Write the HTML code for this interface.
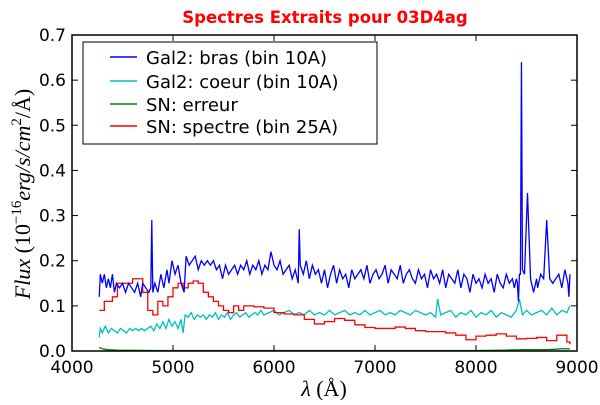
<!DOCTYPE html>
<html><head><meta charset="utf-8"><style>
body{margin:0;background:#fff;width:600px;height:400px;overflow:hidden}
svg text{font-family:"DejaVu Sans","Liberation Sans",sans-serif}
</style></head><body>
<svg id="chart" width="600" height="400" xmlns="http://www.w3.org/2000/svg">
<text x="325" y="23" fill="#ff0000" font-size="16.5" font-weight="bold" text-anchor="middle">Spectres Extraits pour 03D4ag</text>
<g id="marks"></g>
<rect x="72" y="35" width="505" height="316" fill="none" stroke="#000" stroke-width="1.5"/>
<g id="ticks"></g>
<text x="324" y="396" font-size="22" text-anchor="middle" style="font-family:'Liberation Serif',serif"><tspan font-style="italic">λ</tspan> (Å)</text>
<text transform="translate(30,194) rotate(-90)" font-size="22" text-anchor="middle" style="font-family:'Liberation Serif',serif"><tspan font-style="italic">Flux</tspan> (10<tspan dy="-9" font-size="15">−16</tspan><tspan dy="9" font-style="italic">erg/s/cm</tspan><tspan dy="-9" font-size="15">2</tspan><tspan dy="9">/Å)</tspan></text>
<g>
<rect x="83" y="42" width="294" height="102" fill="#fff" stroke="#000" stroke-width="1"/>
<line x1="110" y1="57" x2="137" y2="57" stroke="#0000ff" stroke-width="1.5"/><text x="146" y="64" font-size="18">Gal2: bras (bin 10A)</text>
<line x1="110" y1="81" x2="137" y2="81" stroke="#00bfbf" stroke-width="1.5"/><text x="146" y="88" font-size="18">Gal2: coeur (bin 10A)</text>
<line x1="110" y1="104" x2="137" y2="104" stroke="#008000" stroke-width="1.5"/><text x="146" y="111" font-size="18">SN: erreur</text>
<line x1="110" y1="126" x2="137" y2="126" stroke="#ff0000" stroke-width="1.5"/><text x="146" y="133" font-size="18">SN: spectre (bin 25A)</text>
</g>
</svg>
<script>
const xTicks=[4000,5000,6000,7000,8000,9000];
const yTicks=[0,0.1,0.2,0.3,0.4,0.5,0.6,0.7];
const yTickLabels=["0.0","0.1","0.2","0.3","0.4","0.5","0.6","0.7"];
const brasX=[4270,4280,4300,4320,4340,4360,4380,4400,4420,4440,4470,4500,4530,4560,4590,4620,4650,4680,4700,4730,4760,4780,4790,4800,4820,4850,4880,4910,4940,4960,4990,5020,5050,5080,5110,5130,5160,5190,5220,5250,5280,5310,5340,5370,5400,5430,5460,5490,5520,5550,5580,5610,5640,5670,5700,5730,5760,5790,5820,5850,5880,5910,5940,5970,6000,6030,6060,6090,6120,6150,6180,6210,6240,6250,6260,6290,6320,6350,6380,6410,6440,6470,6500,6530,6560,6590,6620,6650,6680,6710,6740,6770,6800,6830,6860,6890,6920,6950,6980,7010,7040,7070,7100,7130,7160,7190,7220,7250,7280,7310,7340,7370,7400,7430,7460,7490,7520,7550,7580,7610,7640,7670,7700,7730,7760,7790,7820,7850,7880,7910,7940,7970,8000,8030,8060,8090,8120,8150,8180,8210,8240,8270,8300,8330,8360,8380,8400,8410,8420,8430,8440,8450,8460,8480,8510,8540,8570,8600,8610,8620,8640,8670,8700,8730,8760,8790,8820,8850,8880,8910,8920,8930];
const brasY=[0.12,0.17,0.15,0.17,0.14,0.16,0.14,0.17,0.13,0.15,0.14,0.15,0.13,0.15,0.14,0.13,0.15,0.12,0.15,0.14,0.13,0.14,0.29,0.13,0.15,0.13,0.17,0.14,0.18,0.15,0.20,0.17,0.19,0.15,0.13,0.21,0.19,0.20,0.21,0.18,0.20,0.19,0.20,0.19,0.20,0.18,0.19,0.16,0.19,0.17,0.18,0.19,0.17,0.19,0.18,0.20,0.17,0.19,0.18,0.20,0.17,0.19,0.18,0.22,0.19,0.18,0.20,0.17,0.18,0.19,0.16,0.18,0.15,0.27,0.19,0.17,0.20,0.16,0.19,0.17,0.18,0.15,0.18,0.14,0.17,0.19,0.15,0.18,0.16,0.17,0.14,0.18,0.16,0.17,0.18,0.16,0.19,0.15,0.17,0.18,0.16,0.17,0.19,0.15,0.18,0.17,0.16,0.19,0.15,0.17,0.18,0.16,0.15,0.18,0.16,0.17,0.14,0.18,0.16,0.17,0.15,0.18,0.14,0.17,0.16,0.15,0.18,0.14,0.17,0.16,0.13,0.17,0.15,0.16,0.14,0.17,0.15,0.16,0.13,0.17,0.15,0.14,0.17,0.15,0.16,0.14,0.16,0.15,0.11,0.17,0.17,0.64,0.18,0.17,0.35,0.16,0.13,0.16,0.14,0.15,0.17,0.16,0.29,0.16,0.15,0.16,0.17,0.14,0.18,0.15,0.12,0.17,0.14,0.18,0.15,0.20,0.10];
const coeurX=[4270,4280,4300,4330,4360,4390,4420,4450,4480,4510,4540,4570,4600,4630,4660,4690,4720,4750,4780,4810,4840,4870,4900,4930,4960,4990,5020,5050,5080,5100,5120,5150,5180,5210,5240,5270,5300,5330,5360,5390,5420,5450,5480,5510,5540,5570,5600,5630,5660,5690,5720,5750,5780,5810,5840,5870,5900,5950,6000,6050,6100,6150,6200,6250,6300,6350,6400,6450,6500,6550,6600,6650,6700,6750,6800,6850,6900,6950,7000,7050,7100,7150,7200,7250,7300,7350,7400,7450,7500,7550,7600,7620,7650,7700,7750,7800,7850,7900,7950,8000,8050,8100,8150,8200,8250,8300,8350,8400,8430,8460,8500,8550,8600,8650,8700,8750,8800,8850,8900,8930];
const coeurY=[0.03,0.05,0.04,0.055,0.04,0.05,0.045,0.04,0.05,0.045,0.04,0.05,0.045,0.05,0.045,0.05,0.045,0.05,0.055,0.045,0.06,0.05,0.065,0.05,0.07,0.055,0.065,0.05,0.07,0.04,0.08,0.075,0.085,0.07,0.08,0.075,0.08,0.07,0.08,0.075,0.085,0.07,0.08,0.075,0.085,0.07,0.08,0.085,0.075,0.08,0.085,0.075,0.08,0.085,0.08,0.09,0.08,0.085,0.09,0.08,0.085,0.09,0.08,0.085,0.08,0.09,0.08,0.085,0.08,0.09,0.08,0.085,0.09,0.08,0.085,0.08,0.09,0.08,0.085,0.09,0.08,0.085,0.08,0.09,0.085,0.08,0.09,0.085,0.08,0.085,0.075,0.115,0.08,0.085,0.09,0.075,0.085,0.08,0.09,0.075,0.085,0.08,0.09,0.075,0.085,0.08,0.075,0.09,0.115,0.08,0.09,0.08,0.085,0.09,0.08,0.095,0.08,0.09,0.085,0.10];
const erreurX=[4270,4300,4350,4450,4600,4800,5000,5500,6000,6500,7000,7500,8000,8300,8500,8700,8800,8850,8930];
const erreurY=[0.008,0.005,0.003,0.002,0.0015,0.001,0.001,0.001,0.001,0.001,0.001,0.001,0.001,0.002,0.003,0.003,0.004,0.005,0.005];
const spectreX=[4270,4320,4400,4450,4550,4600,4700,4750,4800,4850,4900,4950,5000,5050,5100,5150,5200,5250,5300,5350,5400,5450,5500,5550,5600,5650,5700,5800,5900,6000,6100,6200,6300,6400,6500,6600,6700,6800,6900,7000,7200,7300,7400,7500,7700,7800,7900,8000,8100,8200,8300,8400,8500,8600,8700,8800,8900,8930];
const spectreY=[0.09,0.11,0.12,0.15,0.15,0.16,0.13,0.09,0.08,0.11,0.10,0.12,0.14,0.15,0.14,0.15,0.155,0.15,0.13,0.12,0.11,0.10,0.09,0.085,0.10,0.09,0.10,0.098,0.095,0.085,0.082,0.08,0.07,0.06,0.065,0.072,0.068,0.058,0.052,0.05,0.053,0.05,0.045,0.043,0.04,0.035,0.025,0.033,0.035,0.038,0.033,0.027,0.028,0.03,0.023,0.035,0.02,0.015];
const X=v=>72+(v-4000)/5000*505;
const Y=v=>351-v/0.7*316;
const NS="http://www.w3.org/2000/svg";
const marks=document.getElementById('marks'),ticks=document.getElementById('ticks');
function el(t,a,p){const e=document.createElementNS(NS,t);for(const k in a)e.setAttribute(k,a[k]);p.appendChild(e);return e;}
function line(xs,ys,color,name,step){
  let d='';
  xs.forEach((x,i)=>{
    if(i===0)d+='M'+X(x)+','+Y(ys[i]);
    else if(step)d+='H'+X(x)+'V'+Y(ys[i]);
    else d+='L'+X(x)+','+Y(ys[i]);
  });
  const p=el('path',{d:d,fill:'none',stroke:color,'stroke-width':1.3},marks);
  
  
}
line(erreurX,erreurY,'#008000','series-erreur',false);
line(coeurX,coeurY,'#00bfbf','series-coeur',false);
line(spectreX,spectreY,'#ff0000','series-spectre',true);
line(brasX,brasY,'#0000ff','series-bras',false);
xTicks.forEach(v=>{
  el('line',{x1:X(v),x2:X(v),y1:351,y2:345,stroke:'#000'},ticks);
  el('line',{x1:X(v),x2:X(v),y1:35,y2:41,stroke:'#000'},ticks);
  const t=el('text',{x:X(v),y:373,'font-size':17,'text-anchor':'middle'},ticks);
  
  
  t.textContent=v;
});
yTicks.forEach((v,i)=>{
  el('line',{x1:72,x2:78,y1:Y(v),y2:Y(v),stroke:'#000'},ticks);
  el('line',{x1:577,x2:571,y1:Y(v),y2:Y(v),stroke:'#000'},ticks);
  const t=el('text',{x:66,y:Y(v)+6,'font-size':17,'text-anchor':'end'},ticks);
  
  
  t.textContent=yTickLabels[i];
});
</script>
</body></html>
